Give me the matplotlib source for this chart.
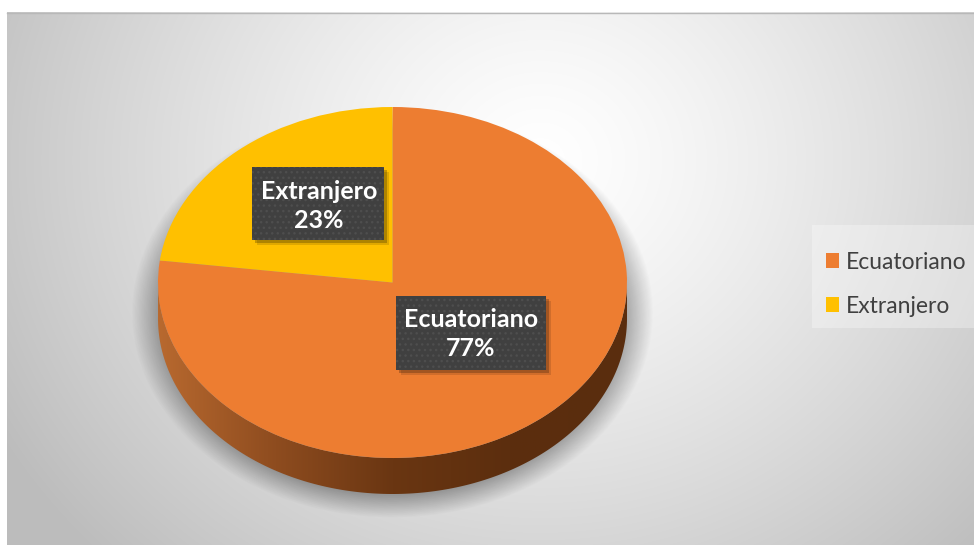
import numpy as np
import matplotlib
matplotlib.use("Agg")
import matplotlib.pyplot as plt
from matplotlib.patches import Rectangle, Polygon
from matplotlib.colors import LinearSegmentedColormap

# Datos del gráfico
categorias = ["Ecuatoriano", "Extranjero"]
porcentajes = [77, 23]
colores = ["#ED7D31", "#FFC000"]

W, H = 974, 545
fig = plt.figure(figsize=(W / 100, H / 100), dpi=100)
fig.patch.set_facecolor("white")

# Ejes de fondo en coordenadas de píxel
bg = fig.add_axes([0, 0, 1, 1])
bg.set_xlim(0, W)
bg.set_ylim(H, 0)
bg.axis("off")

# Fondo con degradado radial (área del gráfico)
x0, y0 = 7, 12
yy, xx = np.mgrid[y0:H, x0:W]
r = np.hypot((xx - 540) / 620.0, (yy - 160) / 560.0)
gris = 1.0 - 0.26 * np.clip(r, 0, 1) ** 1.3
img = np.dstack([gris, gris, gris])
bg.imshow(img, extent=[x0, W, H, y0], aspect="auto", zorder=0)
bg.plot([x0, W], [y0 + 0.5, y0 + 0.5], color="#b8b8b8", lw=1, zorder=1)

# Sombra suave bajo el pastel
rs = np.hypot((xx - 392) / 244.0, (yy - 312) / 192.0)
alpha = 0.32 * np.clip((1.07 - rs) / 0.12, 0, 1)
sombra = np.zeros((H - y0, W - x0, 4))
sombra[..., 3] = alpha
bg.imshow(sombra, extent=[x0, W, H, y0], aspect="auto", zorder=1)

# Recuadro de la leyenda
bg.add_patch(Rectangle((812, 225), W - 812, 103, facecolor="white", alpha=0.3,
                       lw=0, zorder=3))

# Ejes del pastel (elipse aplanada)
cx, cy, a, b = 392.5, 282.5, 234.5, 175.5
prof = 36 / b
ax = fig.add_axes([(cx - a) / W, 1 - (cy + b + 36) / H, 2 * a / W, (2 * b + 36) / H])
ax.patch.set_alpha(0)

cunas, _ = ax.pie(porcentajes, colors=colores, startangle=90, counterclock=False,
                  radius=1, wedgeprops={"linewidth": 0})
ax.set_aspect("auto")
ax.set_xlim(-1, 1)
ax.set_ylim(-1 - prof, 1)
ax.axis("off")

# Cara lateral del pastel con degradado
t = np.linspace(np.pi, 2 * np.pi, 200)
sup = np.column_stack([np.cos(t), np.sin(t)])
inf = np.column_stack([np.cos(t[::-1]), np.sin(t[::-1]) - prof])
lado = Polygon(np.vstack([sup, inf]), closed=True, facecolor="none", edgecolor="none")
ax.add_patch(lado)
cmap_lado = LinearSegmentedColormap.from_list(
    "lado", ["#B8692F", "#8E4C1F", "#6A3612", "#5C2E0E", "#5A2D0E"])
grad = np.linspace(0, 1, 256).reshape(1, -1)
im = ax.imshow(grad, cmap=cmap_lado, extent=[-1, 1, -1 - prof, 0], aspect="auto", zorder=0)
im.set_clip_path(lado)

# Capa superior para las etiquetas de datos
top = fig.add_axes([0, 0, 1, 1])
top.set_xlim(0, W)
top.set_ylim(H, 0)
top.axis("off")
top.patch.set_alpha(0)

plt.rcParams["hatch.color"] = "#4e4e4e"
etiquetas = [
    (categorias[0], porcentajes[0], (396, 296, 150, 74), (471, 334)),
    (categorias[1], porcentajes[1], (252, 167, 132, 73), (319, 206)),
]
for nombre, pct, (bx, by, bw, bh), (tx, ty) in etiquetas:
    for off, al in [(5, 0.12), (3, 0.22)]:
        top.add_patch(Rectangle((bx + off, by + off), bw, bh, facecolor="black",
                                alpha=al, lw=0, zorder=5))
    top.add_patch(Rectangle((bx, by), bw, bh, facecolor="#404040", hatch="...",
                            lw=0, zorder=6))
    top.text(tx, ty, f"{nombre}\n{pct}%", ha="center", va="center", color="white",
             fontsize=18, fontweight="bold", family="Lato", linespacing=1.3, zorder=7)

# Leyenda
leg = fig.legend(cunas, categorias, loc="upper left",
                 bbox_to_anchor=(805 / W, 1 - 231 / H), frameon=False,
                 prop={"family": "Lato", "size": 16.5}, labelcolor="#404040",
                 handlelength=0.6, handleheight=0.6, handletextpad=0.3,
                 labelspacing=1.0)

fig.savefig("out.png", dpi=100)
